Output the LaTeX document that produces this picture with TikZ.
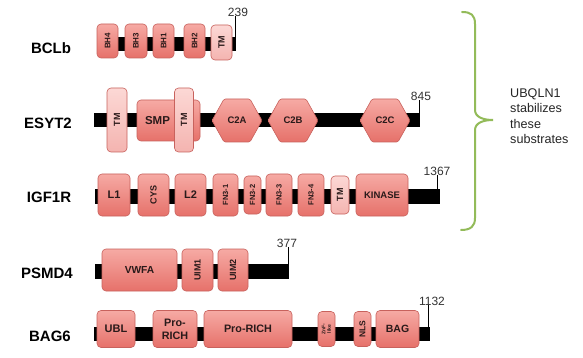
\documentclass[tikz,border=0pt]{standalone}
\usepackage{fontspec}
\setmainfont{Liberation Sans}
\definecolor{domtop}{HTML}{F6AAA4}
\definecolor{dombot}{HTML}{E6716A}
\definecolor{domline}{HTML}{C8625D}
\definecolor{tmtop}{HTML}{FCD8D5}
\definecolor{tmbot}{HTML}{F4B4B0}
\definecolor{domtext}{HTML}{2A1A1A}
\definecolor{bracegreen}{HTML}{93BB59}
\definecolor{numtext}{HTML}{333333}
\tikzset{
  dom/.style={draw=domline, line width=0.6pt, rounded corners=4pt, top color=domtop, bottom color=dombot, text=domtext, inner sep=0pt, font=\bfseries\fontsize{10.5}{11}\selectfont},
  tmbox/.style={dom, top color=tmtop, bottom color=tmbot},
  vt/.style={rotate=90, text=domtext, inner sep=0pt, font=\bfseries\fontsize{8}{8}\selectfont},
  hex/.style={draw=domline, line width=0.6pt, rounded corners=1.5pt, top color=domtop, bottom color=dombot},
  hext/.style={text=domtext, inner sep=0pt, font=\bfseries\fontsize{9.5}{10}\selectfont},
  bar/.style={fill=black},
  lab/.style={font=\bfseries\fontsize{15}{15}\selectfont, text=black, inner sep=0pt},
  num/.style={font=\fontsize{12}{12}\selectfont, text=numtext, inner sep=0pt},
  tick/.style={draw=black, line width=0.9pt},
  brace/.style={draw=bracegreen, line width=2pt, line cap=round}
}
\begin{document}
\begin{tikzpicture}[x=1pt,y=-1pt]
\useasboundingbox (0,0) rectangle (583,358);
\fill[white] (0,0) rectangle (583,358);

% ---------- BCLb ----------
\node[lab] (lbcl) at (51,48) {BCLb};
\fill[bar] (97,37) rectangle (236,51);
\coordinate (bclend) at (235,37);
\node[num] (nbcl) at (238,12) {239};
\draw[tick] (bclend) -- (bclend |- nbcl.south);
\node[dom, minimum width=21pt, minimum height=34pt] (bh4) at (107.5,41) {};
\node[vt] (bh4t) at (bh4) {BH4};
\node[dom, minimum width=22pt, minimum height=34pt] (bh3) at (136,41) {};
\node[vt] (bh3t) at (bh3) {BH3};
\node[dom, minimum width=21pt, minimum height=34pt] (bh1) at (163.5,41) {};
\node[vt] (bh1t) at (bh1) {BH1};
\node[dom, minimum width=21pt, minimum height=34pt] (bh2) at (194.5,41) {};
\node[vt] (bh2t) at (bh2) {BH2};
\node[tmbox, minimum width=21pt, minimum height=35pt] (btm) at (221.5,42.5) {};
\node[vt, font=\bfseries\fontsize{9}{9}\selectfont] (btmt) at (btm) {TM};

% ---------- ESYT2 ----------
\node[lab] (lesy) at (48,123) {ESYT2};
\fill[bar] (94,113) rectangle (420,127);
\coordinate (esyend) at (419,113);
\node[num] (nesy) at (421,96) {845};
\draw[tick] (esyend) -- (esyend |- nesy.south);
\node[tmbox, minimum width=20pt, minimum height=64pt] (etm1) at (117,120) {};
\node[vt, font=\bfseries\fontsize{9}{9}\selectfont] (etm1t) at (etm1) {TM};
\node[dom, minimum width=63pt, minimum height=41pt] (smp) at (168.5,120.5) {};
\node[text=domtext, inner sep=0pt, font=\bfseries\fontsize{11.5}{12}\selectfont] (smpt) at (157.5,120.5) {SMP};
\node[tmbox, minimum width=19pt, minimum height=64pt] (etm2) at (184,120) {};
\node[vt, font=\bfseries\fontsize{9}{9}\selectfont] (etm2t) at (etm2) {TM};
\path[hex] (212,120.5) -- (224,99) -- (250,99) -- (262,120.5) -- (250,142) -- (224,142) -- cycle;
\node[hext] (c2a) at (237,120.5) {C2A};
\path[hex] (268,120.5) -- (280,99) -- (306,99) -- (318,120.5) -- (306,142) -- (280,142) -- cycle;
\node[hext] (c2b) at (293,120.5) {C2B};
\path[hex] (360,120.5) -- (372,99) -- (398,99) -- (410,120.5) -- (398,142) -- (372,142) -- cycle;
\node[hext] (c2c) at (385,120.5) {C2C};

% ---------- IGF1R ----------
\node[lab] (ligf) at (49,197) {IGF1R};
\fill[bar] (95,189) rectangle (440,204);
\coordinate (igfend) at (437,189);
\node[num] (nigf) at (437,171) {1367};
\draw[tick] (igfend) -- (igfend |- nigf.south);
\node[dom, minimum width=32pt, minimum height=42pt, font=\bfseries\fontsize{11}{11}\selectfont] (l1) at (114,195) {L1};
\node[dom, minimum width=31pt, minimum height=42pt] (cys) at (153.5,195) {};
\node[vt, font=\bfseries\fontsize{9}{9}\selectfont] (cyst) at (cys) {CYS};
\node[dom, minimum width=31pt, minimum height=42pt, font=\bfseries\fontsize{11}{11}\selectfont] (l2) at (190.5,195) {L2};
\node[dom, minimum width=25pt, minimum height=42pt] (fn1) at (225.5,195) {};
\node[vt, font=\bfseries\fontsize{7.5}{7.5}\selectfont] (fn1t) at (fn1) {FN3-1};
\node[dom, minimum width=17pt, minimum height=38pt] (fn2) at (252.5,195) {};
\node[vt, font=\bfseries\fontsize{7.5}{7.5}\selectfont] (fn2t) at (fn2) {FN3-2};
\node[dom, minimum width=26pt, minimum height=42pt] (fn3) at (279,195) {};
\node[vt, font=\bfseries\fontsize{7.5}{7.5}\selectfont] (fn3t) at (fn3) {FN3-3};
\node[dom, minimum width=26pt, minimum height=42pt] (fn4) at (311,195) {};
\node[vt, font=\bfseries\fontsize{7.5}{7.5}\selectfont] (fn4t) at (fn4) {FN3-4};
\node[tmbox, minimum width=18pt, minimum height=38pt] (itm) at (340,195) {};
\node[vt, font=\bfseries\fontsize{9}{9}\selectfont] (itmt) at (itm) {TM};
\node[dom, minimum width=52pt, minimum height=42pt, font=\bfseries\fontsize{9.5}{10}\selectfont] (kin) at (382,195) {KINASE};

% ---------- PSMD4 ----------
\node[lab] (lpsm) at (47,273) {PSMD4};
\fill[bar] (95,264) rectangle (289,279);
\coordinate (psmend) at (288,264);
\node[num] (npsm) at (287,243) {377};
\draw[tick] (psmend) -- (psmend |- npsm.south);
\node[dom, minimum width=75pt, minimum height=42pt, font=\bfseries\fontsize{10.2}{11}\selectfont] (vwfa) at (139.5,270) {VWFA};
\node[dom, minimum width=31pt, minimum height=42pt] (uim1) at (197.5,270) {};
\node[vt, font=\bfseries\fontsize{9}{9}\selectfont] (uim1t) at (uim1) {UIM1};
\node[dom, minimum width=30pt, minimum height=42pt] (uim2) at (233,270) {};
\node[vt, font=\bfseries\fontsize{9}{9}\selectfont] (uim2t) at (uim2) {UIM2};

% ---------- BAG6 ----------
\node[lab] (lbag) at (50,336) {BAG6};
\fill[bar] (94,327) rectangle (430,341);
\coordinate (bagend) at (428,327);
\node[num] (nbag) at (432,301) {1132};
\draw[tick] (bagend) -- (bagend |- nbag.south);
\node[dom, minimum width=38pt, minimum height=37pt, font=\bfseries\fontsize{11}{11}\selectfont] (ubl) at (116,329) {UBL};
\node[dom, minimum width=44pt, minimum height=37pt, align=center, font=\bfseries\fontsize{10.8}{13}\selectfont] (pr1) at (175,329) {Pro-\\RICH};
\node[dom, minimum width=88pt, minimum height=37pt, font=\bfseries\fontsize{10.8}{11}\selectfont] (pr2) at (248,329) {Pro-RICH};
\node[dom, minimum width=17pt, minimum height=35pt] (znf) at (326.5,329) {};
\node[vt, align=center, font=\bfseries\fontsize{5}{5.5}\selectfont] (znft) at (znf) {ZnF-\\like};
\node[dom, minimum width=17pt, minimum height=35pt] (nls) at (362.5,329) {};
\node[vt, font=\bfseries\fontsize{8.5}{8.5}\selectfont] (nlst) at (nls) {NLS};
\node[dom, minimum width=43pt, minimum height=37pt, font=\bfseries\fontsize{10.5}{11}\selectfont] (bag) at (397.5,329) {BAG};

% ---------- brace and note ----------
\draw[brace] (462,12) .. controls (471,12) and (475,15) .. (475,24) -- (475,110)
  .. controls (475,117) and (483,120) .. (493,120)
  .. controls (483,120) and (475,123) .. (475,130) -- (475,218)
  .. controls (475,226) and (471,230) .. (461,230);
\node[anchor=north west, inner sep=0pt, align=left, text=black!85, font=\fontsize{12.6}{15.5}\selectfont] (note) at (510,88.5) {UBQLN1\\stabilizes\\these\\substrates};
\end{tikzpicture}
\end{document}
